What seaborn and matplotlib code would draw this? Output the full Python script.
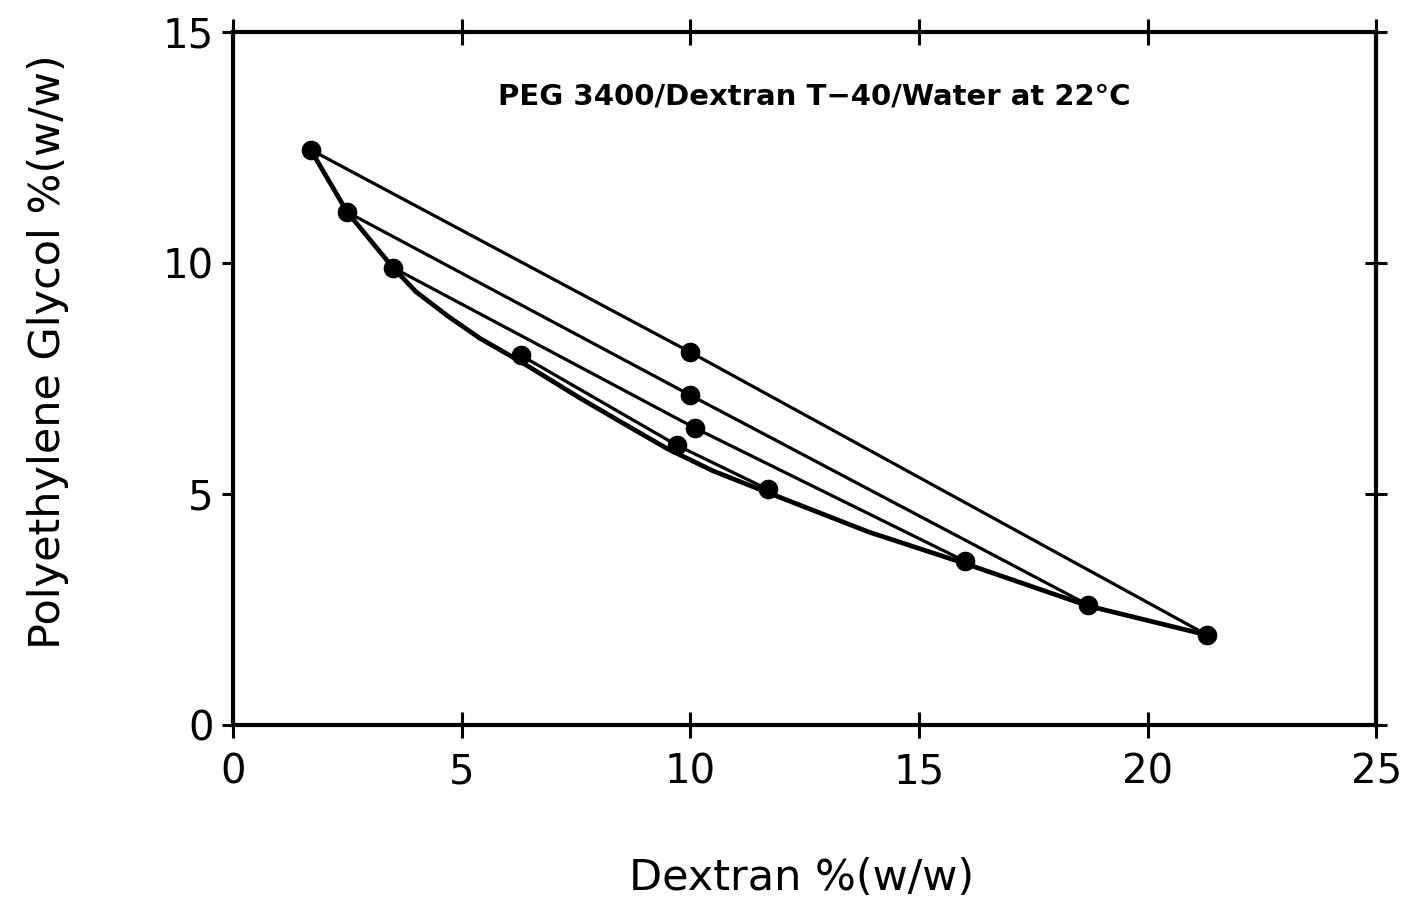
import matplotlib
matplotlib.use("Agg")
import matplotlib.pyplot as plt
import seaborn as sns
import pandas as pd

# Binodal curve
binodal_x = [1.7, 2.5, 3.5, 4.0, 4.7, 5.4, 6.3, 7.6, 8.5, 9.5, 10.5, 11.7, 13.9, 16.0, 18.7, 21.3]
binodal_y = [12.45, 11.1, 9.9, 9.38, 8.85, 8.37, 7.86, 7.07, 6.55, 5.98, 5.5, 5.03, 4.18, 3.5, 2.58, 1.95]

# Tie lines: top phase, total composition, bottom phase
tie_left_x = [1.7, 2.5, 3.5, 6.3]
tie_left_y = [12.45, 11.1, 9.9, 8.0]
tie_mid_x = [10.0, 10.0, 10.1, 9.7]
tie_mid_y = [8.07, 7.14, 6.43, 6.06]
tie_right_x = [21.3, 18.7, 16.0, 11.7]
tie_right_y = [1.95, 2.6, 3.55, 5.1]

x_ticks = [0, 5, 10, 15, 20, 25]
y_ticks = [0, 5, 10, 15]

title_text = "PEG 3400/Dextran T\u221240/Water at 22\u00b0C"
x_label = "Dextran %(w/w)"
y_label = "Polyethylene Glycol %(w/w)"

sns.set_style("ticks")
plt.rcParams["font.family"] = ["DejaVu Sans"]
plt.rcParams["text.color"] = "black"
plt.rcParams["axes.labelcolor"] = "black"
plt.rcParams["xtick.color"] = "black"
plt.rcParams["ytick.color"] = "black"

fig = plt.figure(figsize=(14.03, 9.11), dpi=100)
ax = fig.add_axes([0.166, 0.204, 0.815, 0.761])

bdf = pd.DataFrame({"x": binodal_x, "y": binodal_y})
sns.lineplot(data=bdf, x="x", y="y", sort=False, color="black", lw=3.4, ax=ax,
             solid_joinstyle="round", solid_capstyle="round")

rows = []
for i in range(len(tie_left_x)):
    rows.append({"line": i, "x": tie_left_x[i], "y": tie_left_y[i]})
    rows.append({"line": i, "x": tie_mid_x[i], "y": tie_mid_y[i]})
    rows.append({"line": i, "x": tie_right_x[i], "y": tie_right_y[i]})
tdf = pd.DataFrame(rows)
for i, g in tdf.groupby("line"):
    sns.lineplot(data=g, x="x", y="y", sort=False, color="black", lw=2.3, ax=ax)

sns.scatterplot(data=tdf, x="x", y="y", color="black", s=200, edgecolor="black",
                linewidth=0, zorder=5, ax=ax)

ax.set_xlim(0, 25)
ax.set_ylim(0, 15)
ax.set_xticks(x_ticks)
ax.set_yticks(y_ticks)
ax.set_xticklabels([str(t) for t in x_ticks])
ax.set_yticklabels([str(t) for t in y_ticks])

for s in ax.spines.values():
    s.set_visible(True)
    s.set_linewidth(3)
    s.set_color("black")

ax.tick_params(axis="x", which="major", direction="inout", length=19, width=2.2,
               labelsize=29, pad=10, top=True, labeltop=False)
ax.tick_params(axis="y", which="major", direction="out", length=8, width=2.2,
               labelsize=29, pad=6, right=True, labelright=False)
# right ticks cross the spine
for t in ax.yaxis.get_major_ticks():
    t.tick2line.set_marker("_")
    t.tick2line.set_markersize(16)
    t.tick2line.set_markeredgewidth(2.2)

ax.set_xlabel(x_label, fontsize=31)
ax.set_ylabel(y_label, fontsize=31)
ax.xaxis.set_label_coords(0.497, -0.19)
ax.yaxis.set_label_coords(-0.143, 0.538)

ax.text(12.7, 13.6, title_text, fontsize=21, fontweight="bold", ha="center", va="center")

fig.savefig("out.png", dpi=100, facecolor="white")
